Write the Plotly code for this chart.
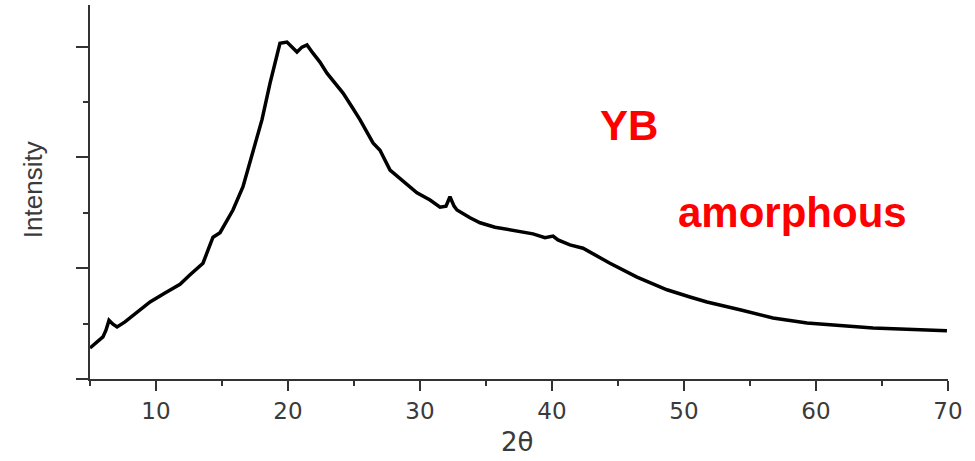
import plotly.graph_objects as go

# XRD pattern of YB (amorphous)
two_theta = [5.0, 5.98, 6.21, 6.44, 6.74, 7.05, 7.65, 8.41, 9.55, 10.68, 11.82, 12.58,
             13.56, 14.09, 14.32, 14.85, 15.83, 16.59, 17.35, 18.03, 18.64, 19.17, 19.39,
             19.92, 20.30, 20.68, 21.06, 21.44, 21.89, 22.42, 22.95, 23.56, 24.17, 24.85,
             25.45, 26.44, 26.97, 27.73, 28.86, 29.77, 30.76, 31.52, 31.97, 32.27, 32.58,
             32.80, 33.79, 34.55, 35.68, 36.82, 38.56, 39.47, 40.08, 40.45, 41.36, 42.35,
             42.88, 44.39, 46.44, 48.71, 50.45, 51.74, 54.24, 56.74, 59.32, 61.82, 64.32,
             66.89, 69.92]
intensity = [0.56, 0.76, 0.88, 1.06, 0.99, 0.94, 1.03, 1.17, 1.39, 1.55, 1.71, 1.88,
             2.09, 2.42, 2.56, 2.64, 3.05, 3.47, 4.08, 4.68, 5.34, 5.81, 6.06,
             6.08, 5.99, 5.90, 5.99, 6.03, 5.88, 5.72, 5.52, 5.34, 5.16, 4.91,
             4.68, 4.26, 4.13, 3.77, 3.54, 3.36, 3.23, 3.10, 3.12, 3.29, 3.12,
             3.05, 2.91, 2.82, 2.74, 2.69, 2.62, 2.55, 2.58, 2.51, 2.42, 2.36,
             2.29, 2.09, 1.84, 1.61, 1.48, 1.39, 1.25, 1.10, 1.01, 0.96, 0.92,
             0.90, 0.87]

x_ticks = [10, 20, 30, 40, 50, 60, 70]
x_tick_labels = ["10", "20", "30", "40", "50", "60", "70"]

x_title = "2θ"
y_title = "Intensity"
label_sample = "YB"
label_phase = "amorphous"

axis_col = "#333333"
text_col = "#3a3a3a"

fig = go.Figure()
fig.add_trace(go.Scatter(
    x=two_theta, y=intensity, mode="lines",
    line=dict(color="black", width=3.5),
    hoverinfo="skip", showlegend=False,
))

fig.update_layout(
    width=975, height=461,
    margin=dict(l=90, r=27, t=5, b=82),
    paper_bgcolor="white", plot_bgcolor="white",
    showlegend=False,
)

fig.update_xaxes(
    range=[5, 70], tickmode="array", tickvals=x_ticks, ticktext=x_tick_labels,
    showgrid=False, zeroline=False,
    showline=True, linecolor=axis_col, linewidth=2,
    ticks="outside", ticklen=10, tickwidth=2, tickcolor=axis_col,
    tickfont=dict(family="DejaVu Sans", size=23, color=text_col),
    minor=dict(tickmode="array", tickvals=[5, 15, 25, 35, 45, 55, 65],
               ticks="outside", ticklen=5, tickwidth=2, tickcolor=axis_col),
)
fig.update_yaxes(
    range=[0, 6.75], tick0=0, dtick=2,
    showgrid=False, zeroline=False, showticklabels=False,
    showline=True, linecolor=axis_col, linewidth=2,
    ticks="outside", ticklen=12, tickwidth=2, tickcolor=axis_col,
    minor=dict(dtick=1, ticks="outside", ticklen=5, tickwidth=2, tickcolor=axis_col),
)

fig.add_annotation(
    text=y_title, xref="paper", yref="paper", x=-0.0664, y=0.505,
    textangle=-90, showarrow=False, xanchor="center", yanchor="middle",
    font=dict(family="Liberation Sans", size=26, color=text_col),
)
fig.add_annotation(
    text=x_title, xref="paper", yref="paper", x=0.498, y=-0.168,
    showarrow=False, xanchor="center", yanchor="middle",
    font=dict(family="DejaVu Sans", size=26, color=text_col),
)
fig.add_annotation(
    text=f"<b>{label_sample}</b>", xref="paper", yref="paper", x=0.628, y=0.679,
    showarrow=False, xanchor="center", yanchor="middle",
    font=dict(family="Liberation Sans", size=42, color="#ff0000"),
)
fig.add_annotation(
    text=f"<b>{label_phase}</b>", xref="paper", yref="paper", x=0.819, y=0.444,
    showarrow=False, xanchor="center", yanchor="middle",
    font=dict(family="Liberation Sans", size=42, color="#ff0000"),
)

fig.write_html("out.html")
